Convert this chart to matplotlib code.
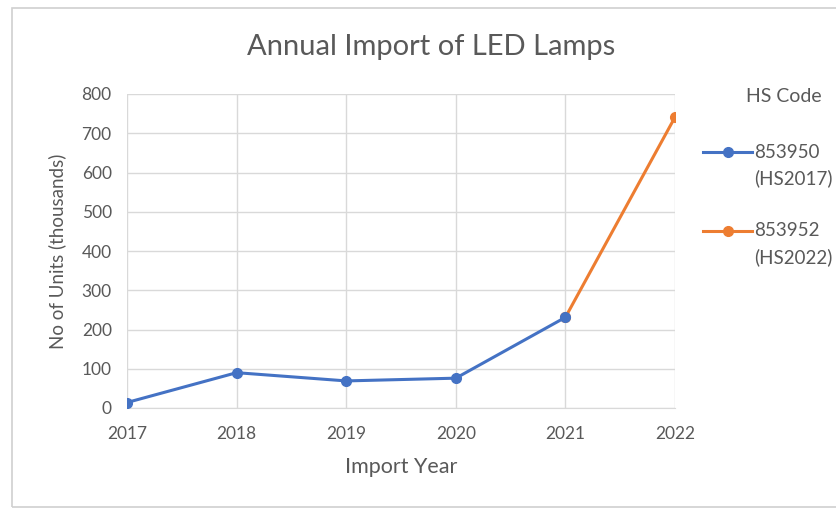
import matplotlib.pyplot as plt
from matplotlib.patches import Rectangle
from matplotlib.lines import Line2D

years = [2017, 2018, 2019, 2020, 2021, 2022]
hs2017_years = [2017, 2018, 2019, 2020, 2021]
hs2017_units = [14, 90, 69, 76, 231]
hs2022_years = [2021, 2022]
hs2022_units = [231, 741]
y_ticks = [0, 100, 200, 300, 400, 500, 600, 700, 800]

blue = '#4472C4'
orange = '#ED7D31'
txt = '#595959'
grid = '#D9D9D9'

plt.rcParams['font.family'] = ['Lato', 'DejaVu Sans']

fig = plt.figure(figsize=(8.37, 5.09), dpi=100)
ax = fig.add_axes([127 / 837, 1 - 408 / 509, 548 / 837, 314 / 509])

ax.plot(hs2022_years, hs2022_units, color=orange, linewidth=2.2, marker='o', markersize=7, zorder=3)
ax.plot(hs2017_years, hs2017_units, color=blue, linewidth=2.2, marker='o', markersize=7, zorder=4)

ax.set_xlim(2017, 2022)
ax.set_ylim(0, 800)
ax.set_xticks(years)
ax.set_yticks(y_ticks)
ax.grid(True, color=grid, linewidth=1)
ax.set_axisbelow(True)
for side in ['top', 'right', 'left']:
    ax.spines[side].set_visible(False)
ax.spines['bottom'].set_color(grid)
ax.tick_params(length=0, labelsize=12.5, colors=txt)
ax.tick_params(axis='x', pad=13)
ax.tick_params(axis='y', pad=11)
for lbl in ax.get_xticklabels() + ax.get_yticklabels():
    lbl.set_clip_on(False)

ax.set_xlabel('Import Year', fontsize=15.5, color=txt, labelpad=11)
ax.set_ylabel('No of Units (thousands)', fontsize=13.5, color=txt, labelpad=11)

fig.text(431 / 837, 1 - 47 / 509, 'Annual Import of LED Lamps', fontsize=21, color=txt,
         ha='center', va='center')

# legend drawn by hand so the marker sits on the first label line
fig.text(784 / 837, 1 - 97 / 509, 'HS Code', fontsize=14, color=txt, ha='center', va='center')
entries = [(blue, '853950', '(HS2017)', 152), (orange, '853952', '(HS2022)', 231)]
for col, code, hs, ypix in entries:
    yf = 1 - ypix / 509
    fig.add_artist(Line2D([703 / 837, 752 / 837], [yf, yf], color=col, linewidth=2.2))
    fig.add_artist(Line2D([728 / 837], [yf], color=col, marker='o', markersize=7))
    fig.text(754 / 837, yf, code, fontsize=13.5, color=txt, ha='left', va='center')
    fig.text(754 / 837, yf - 26 / 509, hs, fontsize=13.5, color=txt, ha='left', va='center')

# chart area frame (right side runs off the picture)
fig.add_artist(Rectangle((12 / 837, 2 / 509), 840 / 837, 499 / 509, transform=fig.transFigure,
                         fill=False, edgecolor='#D0D0D0', linewidth=1.2))

fig.savefig('out.png', dpi=100)
